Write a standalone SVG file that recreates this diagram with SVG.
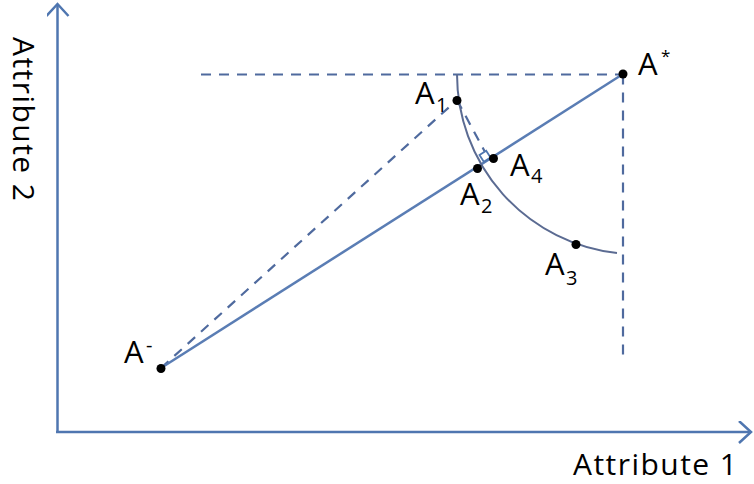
<svg xmlns="http://www.w3.org/2000/svg" width="754" height="484" viewBox="0 0 754 484">
  <style>
    .axis { stroke: #4f76b0; stroke-width: 2.5; fill: none; }
    .solid { stroke: #5a7db4; stroke-width: 2.5; fill: none; }
    .dash { stroke: #4f6a9e; stroke-width: 2.2; fill: none; stroke-dasharray: 10 8; }
    .arc { stroke: #5b6b92; stroke-width: 2; fill: none; }
    .dot { fill: #000; }
    .lbl { font-family: "Open Sans", "Liberation Sans", sans-serif; fill: #000; }
    .big { font-size: 31px; }
    .sub { font-size: 20px; }
    .ax { font-size: 30px; }
  </style>
  <defs>
    <marker id="chev" markerUnits="userSpaceOnUse" markerWidth="30" markerHeight="30" refX="14" refY="11" orient="auto">
      <path d="M2,0 L14,11 L2,22" stroke="#4f76b0" stroke-width="2.5" fill="none"/>
    </marker>
  </defs>

  <g id="axes">
    <line class="axis" x1="57.5" y1="433" x2="57.5" y2="4" marker-end="url(#chev)"/>
    <line class="axis" x1="56" y1="432" x2="751" y2="432" marker-end="url(#chev)"/>
    <text class="lbl ax" x="573" y="475" textLength="164">Attribute 1</text>
    <text class="lbl ax" transform="translate(13,37) rotate(90)" x="0" y="0" textLength="164">Attribute 2</text>
  </g>

  <g id="connectors">
    <line class="dash" x1="201" y1="74.5" x2="623" y2="74.5"/>
    <line class="dash" x1="623" y1="74.5" x2="623" y2="356"/>
    <line class="dash" x1="161" y1="368" x2="457" y2="100"/>
    <line class="dash" x1="457" y1="100" x2="485" y2="152"/>
    <line class="solid" x1="161" y1="368" x2="623" y2="74"/>
    <path class="arc" d="M457,74 A180,180 0 0 0 617,253"/>
    <path d="M479.5,155.1 L486.2,150.8 L490.5,157.5 L483.8,161.8 Z" stroke="#4f76b0" stroke-width="1.8" fill="#fff"/>
  </g>

  <g id="Aminus">
    <circle class="dot" cx="161" cy="368.5" r="4.5"/>
    <text class="lbl big" x="124" y="363">A</text>
    <text class="lbl sub" x="146" y="352">-</text>
  </g>
  <g id="Astar">
    <circle class="dot" cx="623" cy="74" r="4.5"/>
    <text class="lbl big" x="638" y="75">A</text>
    <text class="lbl" style="font-size:17px" x="661" y="62">*</text>
  </g>
  <g id="A1">
    <circle class="dot" cx="457" cy="100.5" r="4.5"/>
    <text class="lbl big" x="415" y="104">A</text>
    <text class="lbl sub" x="436" y="112">1</text>
  </g>
  <g id="A2">
    <circle class="dot" cx="477.5" cy="168.5" r="4.5"/>
    <text class="lbl big" x="460" y="205">A</text>
    <text class="lbl sub" x="481" y="213">2</text>
  </g>
  <g id="A4">
    <circle class="dot" cx="493.5" cy="158.5" r="4.5"/>
    <text class="lbl big" x="510" y="176">A</text>
    <text class="lbl sub" x="531" y="183">4</text>
  </g>
  <g id="A3">
    <circle class="dot" cx="576" cy="244.5" r="4.5"/>
    <text class="lbl big" x="545" y="275">A</text>
    <text class="lbl sub" x="566" y="285">3</text>
  </g>
</svg>
